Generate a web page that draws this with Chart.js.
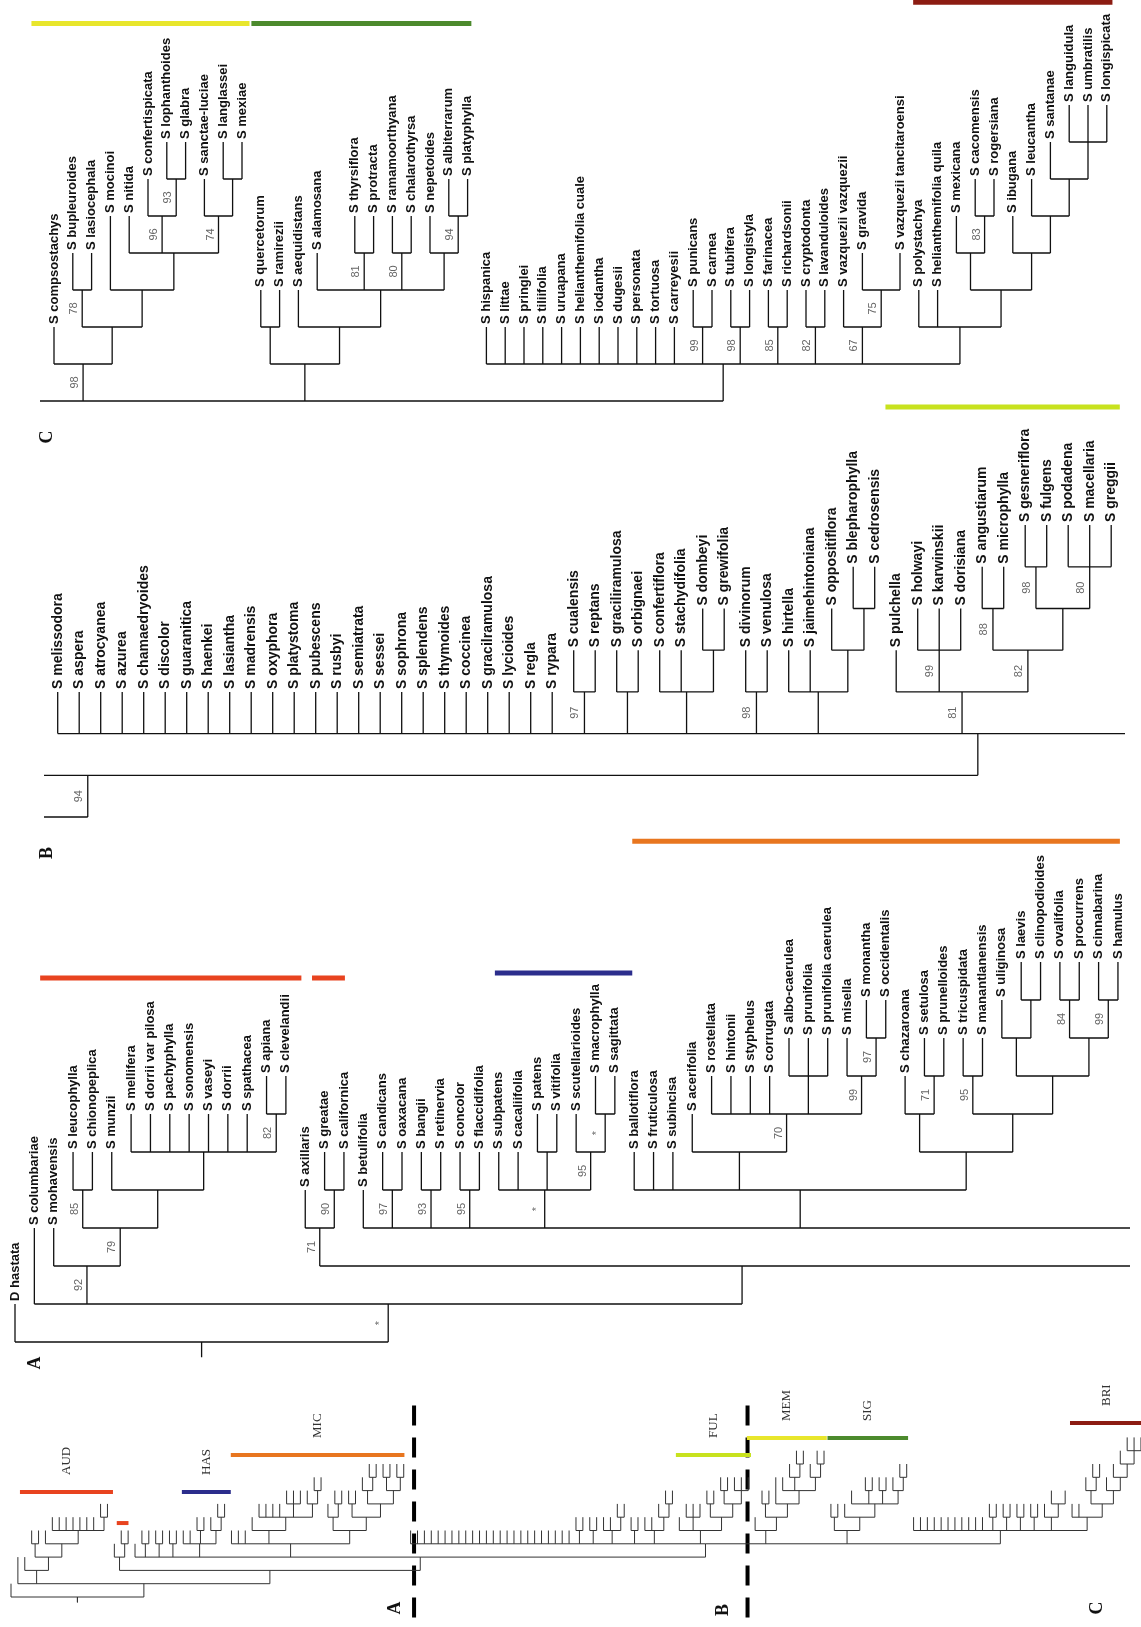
<!DOCTYPE html>
<html>
<head>
<meta charset="utf-8">
<title>Salvia cladogram</title>
<script src="https://cdn.jsdelivr.net/npm/chart.js@4.4.1/dist/chart.umd.min.js"></script>
<style>
  html, body { margin: 0; padding: 0; background: #fff; }
  #page { position: relative; width: 1141px; height: 1627px; overflow: hidden; }
  #page canvas { position: absolute; left: 0; top: 0; }
</style>
</head>
<body>
<div id="page">
  <canvas id="panelC" width="1141" height="1627"></canvas>
  <canvas id="panelB" width="1141" height="1627"></canvas>
  <canvas id="panelA" width="1141" height="1627"></canvas>
  <canvas id="overview" width="1141" height="1627"></canvas>
</div>
<script>
// TREE - newick style: clades "(...)support@level", taxa "name" or "name@tipLevel", "_" = empty slot
const audibertia = "(S mohavensis,((S leucophylla,S chionopeplica)85@4,(S munzii,(S mellifera,S dorrii var pilosa,S pachyphylla,S sonomensis,S vaseyi,S dorrii,S spathacea,(S apiana,S clevelandii)82@6)@5)@4)79@3)92@2";
const heterosphace = "(S axillaris,(S greatae,S californica)90@4)71@3";
const hastatae = "(S subpatens,S cacaliifolia,(S patens,S vitifolia)@5,(S scutellarioides,(S macrophylla,S sagittata)*@6)95@5)*@4";
const microsphace = "(S ballotiflora,S fruticulosa,S subincisa,(S acerifolia,(S rostellata,S hintonii,S styphelus,S corrugata,(S albo-caerulea,S prunifolia,S prunifolia caerulea)@7,(S misella,(S monantha,S occidentalis)97@8)99@7)70@6)@5,((S chazaroana,(S setulosa,S prunelloides)71@7)@6,((S tricuspidata,S manantlanensis)95@7,((S uliginosa,(S laevis,S clinopodioides)@9)@8,((S ovalifolia,S procurrens)84@9,(S cinnabarina,S hamulus)99@9)@8)@7)@6)@5)@4";
const calosphaceB = "S melissodora,S aspera,S atrocyanea,S azurea,S chamaedryoides,S discolor,S guaranitica,S haenkei,S lasiantha,S madrensis,S oxyphora,S platystoma,S pubescens,S rusbyi,S semiatrata,S sessei,S sophrona,S splendens,S thymoides,S coccinea,S gracilramulosa,S lycioides,S regla,S rypara,(S cualensis,S reptans)97@5,(S graciliramulosa,S orbignaei)@5,(S confertiflora,S stachydifolia,(S dombeyi,S grewifolia)@6)@5,(S divinorum,S venulosa)98@5,(S hirtella,S jaimehintoniana,(S oppositiflora,(S blepharophylla,S cedrosensis)@7)@6)@5";
const fulgentes = "(S pulchella,(S holwayi,S karwinskii,S dorisiana)99@6,((S angustiarum,S microphylla)88@7,((S gesneriflora,S fulgens)98@8,(S podadena,S macellaria,S greggii)80@8)@7)82@6)81@5";
const membranaceae = "(S compsostachys,((S bupleuroides,S lasiocephala)78@7,(S mocinoi@9,(S nitida,(S confertispicata,(S lophanthoides,S glabra)93@10)96@9,(S sanctae-luciae,(S langlassei,S mexiae)@10)74@9)@8)@7)@6)98@5";
const sigmoideae = "((S quercetorum,S ramirezii)@6,(S aequidistans,(S alamosana,_,(S thyrsiflora,S protracta)81@8,(S ramamoorthyana,S chalarothyrsa)80@8,(S nepetoides,(S albiterrarum,S platyphylla)94@9)@8)@7)@6)@5";
const brittonia = "(S polystachya,S helianthemifolia quila,((S mexicana,(S cacomensis,S rogersiana)83@9)@8,(S ibugana,(S leucantha,(S santanae,(S languidula,S umbratilis,S longispicata)@11)@10)@9)@8)@7)@6";
const calosphaceC = "(S hispanica,S littae,S pringlei,S tiliifolia,S uruapana,S helianthemifolia cuale,S iodantha,S dugesii,S personata,S tortuosa,S carreyesii,(S punicans,S carnea)99@6,(S tubifera,S longistyla)98@6,(S farinacea,S richardsonii)85@6,(S cryptodonta,S lavanduloides)82@6,(S vazquezii vazquezii,(S gravida,_,S vazquezii tancitaroensi)75@7)67@6," + brittonia + ")@5";

const calosphace = "(" + calosphaceB + "," + fulgentes + "," + membranaceae + "," + sigmoideae + "," + calosphaceC + ")@4";
const clade94 = "(S betulifolia,(S candicans,S oaxacana)97@4,(S bangii,S retinervia)93@4,(S concolor,S flaccidifolia)95@4," + hastatae + "," + microsphace + "," + calosphace + ")94@3";
const fullTree = "(D hastata,(S columbariae@3," + audibertia + ",(" + heterosphace + "," + clade94 + ")@2)*@1)@0";

// CLADE BARS (taxon slot range, level in the panel, level in the overview)
const cladeNames = ['AUD', '', 'HAS', 'MIC', 'FUL', 'MEM', 'SIG', 'BRI'];
const cladeColors = ['#e8431f', '#e8431f', '#2b2d8c', '#e8761f', '#c8e21e', '#e8e62c', '#4c8a2d', '#8c1c12'];
const cladeFrom = [1.3, 15.35, 24.8, 31.9, 96.5, 106.8, 118.5, 153.7];
const cladeTo = [14.8, 17.05, 31.9, 57.1, 107.4, 118.4, 130.2, 164.3];
const cladePanel = ['A', 'A', 'A', 'A', 'B', 'C', 'C', 'C'];
const cladeLevel = [9.58, 9.58, 9.71, 13.18, 11.83, 14.2, 14.2, 14.78];
const cladeLevelOverview = [7.9, 5.56, 7.9, 10.68, 10.68, 11.95, 11.95, 13.08];

// OVERVIEW section breaks
const sectionBreaks = [58.5, 106.9];
const breakLevels = [14.4, -1.95];
const sectionNames = ['A', 'B', 'C'];

const W = 1141, H = 1627;

const panels = [
  { key: 'A', id: 'panelA', area: [0, 835, 1130, 1372], firstLeaf: [15, 0], step: 19.35, base: [1342, 0], rise: 38,
    font: 'bold 13px "Liberation Sans", Arial, sans-serif', supGap: 8, title: [35, 1363] },
  { key: 'B', id: 'panelB', area: [44, 395, 1125, 835], firstLeaf: [57.7, 58], step: 21.5, base: [817, 2], rise: 41.7,
    font: 'bold 14px "Liberation Sans", Arial, sans-serif', supGap: 9, title: [47, 853] },
  { key: 'C', id: 'panelC', area: [40, 0, 1141, 445], firstLeaf: [54, 108], step: 18.8, base: [401, 4], rise: 37,
    font: 'bold 13px "Liberation Sans", Arial, sans-serif', supGap: 8, title: [47, 437] }
];
const overview = { id: 'overview', area: [0, 1370, 1141, 1627], firstLeaf: [11, 0], step: 6.89, base: [1597, 0], rise: 13.3,
  sectionAt: [[395, 1608], [723, 1610], [1097, 1608]] };

// PARSE + LAYOUT
function parseTree(str) {
  let i = 0;
  function readNode() {
    const node = { kids: [] };
    if (str[i] === '(') {
      i++;
      node.kids.push(readNode());
      while (str[i] === ',') { i++; node.kids.push(readNode()); }
      i++;
    }
    let label = '';
    while (i < str.length && str[i] !== ',' && str[i] !== ')') label += str[i++];
    const parts = label.split('@');
    node.label = parts[0].trim();
    node.level = parts.length > 1 ? parseFloat(parts[1]) : null;
    return node;
  }
  return readNode();
}

const tree = { leaves: [], clades: [], segments: [] };
let slot = 0;
function place(n, parent) {
  n.parentLevel = parent ? parent.level : null;
  if (!n.kids.length) {
    n.x = slot++;
    n.top = n.level != null ? n.level : parent.level + 1;
    n.gap = n.label === '_';
    if (!n.gap) tree.leaves.push(n);
    return;
  }
  n.kids.forEach(k => place(k, n));
  n.x = (n.kids[0].x + n.kids[n.kids.length - 1].x) / 2;
  n.top = n.level;
  tree.clades.push(n);
}
const root = parseTree(fullTree);
place(root, null);

function seg(x1, y1, x2, y2) {
  tree.segments.push({ x: x1, y: y1 }, { x: x2, y: y2 }, { x: x2, y: null });
}
tree.clades.forEach(n => {
  seg(n.kids[0].x, n.level, n.kids[n.kids.length - 1].x, n.level);
  n.kids.forEach(k => { if (!k.gap) seg(k.x, n.level, k.x, k.top); });
});
seg(root.x, root.level, root.x, root.level - 0.4);

// DRAWING
function vtext(ctx, str, x, y, align) {
  ctx.save();
  ctx.translate(x, y);
  ctx.rotate(-Math.PI / 2);
  ctx.textAlign = align;
  ctx.textBaseline = 'middle';
  ctx.fillText(str, 0, 0);
  ctx.restore();
}

function makeChart(p, datasets, plugin) {
  const [l, t, r, b] = p.area;
  const xAt = px => p.firstLeaf[1] + (px - p.firstLeaf[0]) / p.step;
  const yAt = px => p.base[1] + (p.base[0] - px) / p.rise;
  return new Chart(document.getElementById(p.id), {
    type: 'scatter',
    data: { datasets },
    options: {
      responsive: false,
      animation: false,
      events: [],
      layout: { padding: { left: l, top: t, right: W - r, bottom: H - b } },
      scales: {
        x: { type: 'linear', display: false, min: xAt(l), max: xAt(r) },
        y: { type: 'linear', display: false, min: yAt(b), max: yAt(t) }
      },
      plugins: { legend: { display: false }, tooltip: { enabled: false } }
    },
    plugins: [plugin]
  });
}

function treeDataset(width, color) {
  return { data: tree.segments.slice(), showLine: true, borderColor: color, borderWidth: width,
    pointRadius: 0, pointHoverRadius: 0, spanGaps: false, clip: 0 };
}

function barDataset(i, level, width, clip) {
  return { data: [{ x: cladeFrom[i], y: level }, { x: cladeTo[i], y: level }], showLine: true,
    borderColor: cladeColors[i], borderWidth: width, pointRadius: 0, pointHoverRadius: 0, clip: clip };
}

panels.forEach(p => {
  const sets = [treeDataset(1.3, '#111')];
  cladeNames.forEach((name, i) => {
    if (cladePanel[i] === p.key) sets.push(barDataset(i, cladeLevel[i], 5, { left: 15, right: 15, top: false, bottom: false }));
  });
  makeChart(p, sets, {
    id: 'labels' + p.key,
    afterDraw(chart) {
      const ctx = chart.ctx, xs = chart.scales.x, ys = chart.scales.y, a = chart.chartArea;
      ctx.save();
      ctx.fillStyle = '#111';
      ctx.font = p.font;
      tree.leaves.forEach(leaf => {
        const px = xs.getPixelForValue(leaf.x);
        if (px < a.left - 1 || px > a.right + 1) return;
        vtext(ctx, leaf.label, px, ys.getPixelForValue(leaf.top) - 3, 'left');
      });
      ctx.fillStyle = '#666';
      ctx.font = '11px "Liberation Sans", Arial, sans-serif';
      tree.clades.forEach(n => {
        if (!n.label || n.parentLevel == null) return;
        const px = xs.getPixelForValue(n.x);
        if (px < a.left - 1 || px > a.right + 1) return;
        const py = (ys.getPixelForValue(n.level) + ys.getPixelForValue(n.parentLevel)) / 2;
        vtext(ctx, n.label, px - p.supGap, py, 'center');
      });
      ctx.fillStyle = '#111';
      ctx.font = 'bold 18px "Liberation Serif", "Times New Roman", serif';
      vtext(ctx, p.key, p.title[0], p.title[1], 'center');
      ctx.restore();
    }
  });
});

// OVERVIEW
const ovSets = [treeDataset(1, '#333')];
cladeNames.forEach((name, i) => ovSets.push(barDataset(i, cladeLevelOverview[i], 4, false)));
sectionBreaks.forEach(x => ovSets.push({
  data: [{ x: x, y: breakLevels[0] }, { x: x, y: breakLevels[1] }], showLine: true, borderColor: '#000',
  borderWidth: 4, borderDash: [20, 12], pointRadius: 0, pointHoverRadius: 0, clip: false
}));
makeChart(overview, ovSets, {
  id: 'overviewLabels',
  afterDraw(chart) {
    const ctx = chart.ctx, xs = chart.scales.x, ys = chart.scales.y;
    ctx.save();
    ctx.fillStyle = '#333';
    ctx.font = '13px "Liberation Serif", "Times New Roman", serif';
    cladeNames.forEach((name, i) => {
      if (!name) return;
      const px = (xs.getPixelForValue(cladeFrom[i]) + xs.getPixelForValue(cladeTo[i])) / 2;
      vtext(ctx, name, px, ys.getPixelForValue(cladeLevelOverview[i]) - 17, 'left');
    });
    ctx.fillStyle = '#111';
    ctx.font = 'bold 18px "Liberation Serif", "Times New Roman", serif';
    sectionNames.forEach((s, i) => vtext(ctx, s, overview.sectionAt[i][0], overview.sectionAt[i][1], 'center'));
    ctx.restore();
  }
});
</script>
</body>
</html>
